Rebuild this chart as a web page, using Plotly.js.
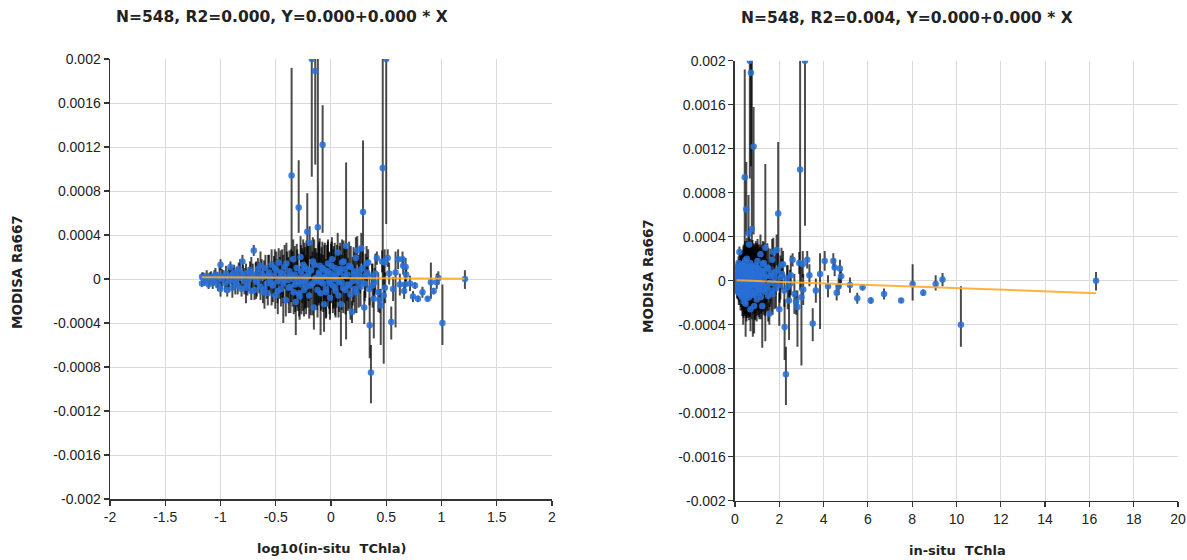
<!DOCTYPE html>
<html>
<head>
<meta charset="utf-8">
<script src="https://cdn.plot.ly/plotly-3.0.1.min.js"></script>
<style>html,body{margin:0;padding:0;background:#fff;}#chart{width:1187px;height:560px;}</style>
</head>
<body>
<div id="chart"></div>
<script>
// in-situ TChla values
const tchla = [
0.068,0.068,0.070,0.072,0.075,0.078,0.080,0.082,0.085,0.088,
0.090,0.093,0.095,0.098,0.100,0.100,0.103,0.106,0.110,0.112,
0.115,0.118,0.120,0.123,0.126,0.128,0.130,0.133,0.136,0.140,
0.143,0.146,0.150,0.155,0.158,0.160,0.165,0.170,0.175,0.180,
0.185,0.190,0.196,0.200,0.203,0.208,0.213,0.218,0.224,0.230,
0.236,0.242,0.248,0.255,0.262,0.268,0.275,0.282,0.290,0.298,
0.305,0.313,0.320,0.328,0.336,0.345,0.353,0.362,0.370,0.380,
0.390,0.400,0.410,0.420,0.430,0.440,0.450,0.460,0.470,0.480,
0.490,0.500,0.510,0.520,0.530,0.540,0.550,0.560,0.570,0.580,
0.590,0.600,0.610,0.625,0.640,0.655,0.670,0.685,0.700,0.715,
0.720,0.745,0.760,0.775,0.790,0.805,0.820,0.840,0.850,0.865,
0.880,0.900,0.920,0.940,0.960,0.980,1.000,1.020,1.040,1.060,
1.080,1.100,1.120,1.150,1.180,1.200,1.230,1.260,1.290,1.320,
1.340,1.370,1.420,1.460,1.500,1.550,1.600,1.640,1.680,1.730,
1.780,1.830,1.880,1.950,2.000,2.050,2.100,2.170,2.240,2.300,
2.380,2.440,2.520,2.600,2.680,2.760,2.820,2.900,2.940,3.000,
3.060,3.160,3.080,3.260,3.360,3.510,3.650,3.840,4.050,4.200,
4.440,4.500,4.590,4.680,4.740,4.790,5.190,5.520,5.760,6.130,
6.730,7.500,8.020,8.500,9.060,9.370,10.20,16.30,
0.150,0.170,0.190,0.210,0.230,0.250,0.270,0.290,0.310,0.330,
0.350,0.370,0.395,0.415,0.435,0.455,0.475,0.495,0.515,0.535,
0.555,0.575,0.595,0.615,0.635,0.660,0.680,0.705,0.730,0.755,
0.780,0.810,0.835,0.870,0.905,0.935,0.970,1.010,1.050,1.090,
1.130,1.170,1.210,1.250,1.300,1.350,1.400,1.450,1.510,1.570,
1.630,1.700,1.770,1.850,1.930,2.020,2.120,2.230,2.350,2.480
];
// MODISA Ra667 values
const ra667 = [
0.00002,-0.00004,0.00001,-0.00002,0.00003,-0.00005,0.00000,0.00002,-0.00003,0.00001,
0.00004,-0.00001,-0.00006,0.00003,0.00013,-0.00009,0.00000,0.00002,-0.00004,0.00005,
-0.00010,0.00001,-0.00002,0.00011,0.00003,-0.00008,0.00000,0.00006,-0.00003,0.00002,
-0.00006,0.00009,0.00001,-0.00009,0.00016,0.00003,-0.00002,0.00005,-0.00005,0.00000,
0.00008,-0.00011,0.00002,0.00026,-0.00010,0.00004,-0.00003,0.00009,0.00001,-0.00007,
0.00005,-0.00012,0.00002,0.00010,-0.00004,-0.00013,0.00006,0.00000,0.00013,-0.00006,
0.00003,-0.00015,0.00008,-0.00002,0.00015,0.00001,-0.00009,0.00005,-0.00004,0.00011,
-0.00019,0.00002,-0.00001,0.00007,-0.00007,0.00094,0.00000,-0.00012,0.00004,-0.00021,
0.00010,-0.00003,0.00065,-0.00016,0.00020,-0.00005,0.00003,0.00013,-0.00010,0.00001,
-0.00002,0.00009,0.00043,0.00005,0.00033,-0.00006,0.00200,0.00016,-0.00026,0.00000,
0.00189,-0.00002,0.00047,0.00004,0.00012,-0.00013,0.00001,0.00122,-0.00004,-0.00023,
0.00008,-0.00009,0.00003,0.00014,-0.00001,-0.00017,0.00005,0.00018,-0.00006,0.00002,
0.00010,-0.00011,0.00000,0.00024,-0.00003,0.00006,-0.00023,0.00015,-0.00008,0.00003,
0.00009,0.00030,-0.00005,0.00012,-0.00014,-0.00030,0.00004,-0.00009,0.00019,0.00026,
-0.00002,0.00008,0.00028,0.00061,-0.00026,0.00003,0.00014,0.00015,-0.00042,-0.00085,
-0.00006,-0.00018,0.00005,0.00019,-0.00012,-0.00019,-0.00024,0.00016,0.00101,-0.00015,
0.00015,0.00200,-0.00008,0.00019,0.00005,-0.00039,-0.00009,0.00006,0.00018,-0.00005,
0.00018,0.00012,-0.00011,-0.00005,0.00011,0.00004,-0.00004,-0.00016,-0.00006,-0.00018,
-0.00012,-0.00018,-0.00003,-0.00011,-0.00003,0.00001,-0.00040,0.00000,
0.00006,-0.00008,0.00004,-0.00001,0.00012,-0.00009,0.00003,-0.00004,0.00010,-0.00011,
0.00006,0.00000,0.00014,-0.00008,0.00003,0.00018,-0.00005,0.00001,-0.00013,0.00007,
-0.00002,0.00011,-0.00007,0.00002,-0.00015,0.00008,-0.00004,0.00013,0.00001,-0.00010,
0.00006,-0.00003,0.00010,0.00002,-0.00012,0.00007,-0.00004,0.00012,0.00000,-0.00008,
0.00005,-0.00015,0.00009,-0.00003,0.00016,-0.00010,0.00004,-0.00006,0.00011,-0.00002,
0.00007,-0.00012,0.00003,-0.00007,0.00010,-0.00004,0.00006,-0.00009,0.00002,-0.00003
];
// upper error
const errUp = [
0.00004,0.00003,0.00005,0.00004,0.00005,0.00004,0.00006,0.00005,0.00006,0.00007,
0.00006,0.00007,0.00005,0.00008,0.00005,0.00007,0.00009,0.00006,0.00008,0.00007,
0.00006,0.00009,0.00010,0.00005,0.00008,0.00009,0.00010,0.00007,0.00011,0.00009,
0.00008,0.00006,0.00010,0.00007,0.00006,0.00010,0.00012,0.00009,0.00010,0.00011,
0.00008,0.00008,0.00012,0.00005,0.00009,0.00011,0.00013,0.00010,0.00014,0.00012,
0.00013,0.00010,0.00015,0.00012,0.00014,0.00011,0.00016,0.00013,0.00014,0.00015,
0.00018,0.00012,0.00017,0.00020,0.00013,0.00019,0.00016,0.00022,0.00018,0.00020,
0.00015,0.00023,0.00021,0.00019,0.00024,0.00098,0.00025,0.00020,0.00026,0.00015,
0.00022,0.00026,0.00043,0.00021,0.00019,0.00027,0.00025,0.00023,0.00024,0.00028,
0.00024,0.00026,0.00035,0.00025,0.00015,0.00027,0.00000,0.00022,0.00016,0.00028,
0.00011,0.00026,0.00153,0.00028,0.00025,0.00024,0.00028,0.00036,0.00026,0.00009,
0.00025,0.00027,0.00028,0.00022,0.00026,0.00020,0.00027,0.00020,0.00025,0.00028,
0.00023,0.00024,0.00026,0.00018,0.00027,0.00024,0.00012,0.00021,0.00023,0.00025,
0.00020,0.00076,0.00024,0.00022,0.00023,0.00010,0.00025,0.00022,0.00019,0.00013,
0.00024,0.00021,0.00014,0.00065,0.00015,0.00020,0.00016,0.00012,0.00025,0.00025,
0.00020,0.00022,0.00018,0.00006,0.00018,0.00010,0.00015,0.00010,0.00099,0.00030,
0.00012,0.00000,0.00014,0.00008,0.00010,0.00014,0.00011,0.00019,0.00009,0.00010,
0.00007,0.00008,0.00007,0.00008,0.00008,0.00006,0.00007,0.00005,0.00003,0.00003,
0.00005,0.00002,0.00018,0.00003,0.00008,0.00006,0.00035,0.00008,
0.00012,0.00014,0.00016,0.00017,0.00013,0.00018,0.00019,0.00020,0.00017,0.00021,
0.00020,0.00022,0.00019,0.00023,0.00024,0.00018,0.00025,0.00026,0.00021,0.00024,
0.00027,0.00022,0.00025,0.00028,0.00021,0.00026,0.00029,0.00023,0.00027,0.00025,
0.00028,0.00026,0.00024,0.00029,0.00023,0.00027,0.00028,0.00022,0.00027,0.00025,
0.00026,0.00020,0.00024,0.00025,0.00019,0.00022,0.00024,0.00021,0.00019,0.00022,
0.00018,0.00019,0.00016,0.00018,0.00015,0.00016,0.00014,0.00015,0.00012,0.00013
];
// lower error
const errDn = [
0.00004,0.00003,0.00005,0.00004,0.00005,0.00004,0.00006,0.00005,0.00006,0.00007,
0.00006,0.00007,0.00005,0.00008,0.00005,0.00007,0.00009,0.00006,0.00008,0.00012,
0.00006,0.00009,0.00010,0.00005,0.00008,0.00009,0.00010,0.00007,0.00011,0.00009,
0.00008,0.00006,0.00010,0.00007,0.00006,0.00010,0.00012,0.00009,0.00010,0.00011,
0.00008,0.00008,0.00012,0.00005,0.00009,0.00011,0.00013,0.00010,0.00014,0.00012,
0.00013,0.00010,0.00015,0.00012,0.00014,0.00011,0.00016,0.00013,0.00014,0.00015,
0.00018,0.00012,0.00017,0.00020,0.00013,0.00019,0.00016,0.00022,0.00036,0.00020,
0.00015,0.00023,0.00021,0.00019,0.00024,0.00098,0.00025,0.00020,0.00026,0.00030,
0.00022,0.00026,0.00023,0.00021,0.00019,0.00027,0.00025,0.00023,0.00024,0.00028,
0.00024,0.00026,0.00035,0.00025,0.00015,0.00027,0.00107,0.00022,0.00020,0.00028,
0.00085,0.00026,0.00050,0.00028,0.00025,0.00038,0.00028,0.00080,0.00026,0.00025,
0.00025,0.00027,0.00028,0.00022,0.00026,0.00020,0.00027,0.00020,0.00025,0.00028,
0.00023,0.00024,0.00026,0.00018,0.00027,0.00024,0.00038,0.00021,0.00023,0.00025,
0.00020,0.00085,0.00024,0.00022,0.00023,0.00010,0.00025,0.00022,0.00019,0.00013,
0.00024,0.00021,0.00014,0.00060,0.00015,0.00020,0.00016,0.00012,0.00030,0.00028,
0.00020,0.00036,0.00018,0.00006,0.00018,0.00012,0.00036,0.00010,0.00110,0.00062,
0.00012,0.00150,0.00014,0.00008,0.00010,0.00016,0.00011,0.00050,0.00009,0.00010,
0.00007,0.00008,0.00007,0.00008,0.00018,0.00006,0.00007,0.00005,0.00003,0.00003,
0.00005,0.00002,0.00015,0.00003,0.00006,0.00006,0.00020,0.00009,
0.00012,0.00014,0.00016,0.00017,0.00013,0.00018,0.00019,0.00020,0.00017,0.00021,
0.00020,0.00022,0.00019,0.00023,0.00024,0.00018,0.00025,0.00026,0.00021,0.00024,
0.00027,0.00022,0.00025,0.00028,0.00021,0.00026,0.00029,0.00023,0.00027,0.00025,
0.00028,0.00026,0.00024,0.00029,0.00023,0.00027,0.00028,0.00022,0.00027,0.00025,
0.00026,0.00020,0.00024,0.00025,0.00019,0.00022,0.00024,0.00021,0.00019,0.00022,
0.00018,0.00019,0.00016,0.00018,0.00015,0.00016,0.00014,0.00015,0.00012,0.00013
];
// regression lines (end points)
const fitLogX = [-1.17, 1.21];
const fitLogY = [0.000016, 0.000002];
const fitX = [0.068, 16.3];
const fitY = [0.000004, -0.000113];

const titleLeft = 'N=548, R2=0.000, Y=0.000+0.000 * X';
const titleRight = 'N=548, R2=0.004, Y=0.000+0.000 * X';
const xTitleLeft = 'log10(in-situ\u00a0 TChla)';
const xTitleRight = 'in-situ\u00a0 TChla';
const yTitle = 'MODISA Ra667';

const xTicksL = [-2,-1.5,-1,-0.5,0,0.5,1,1.5,2];
const xTickTextL = ['-2','-1.5','-1','-0.5','0','0.5','1','1.5','2'];
const xTicksR = [0,2,4,6,8,10,12,14,16,18,20];
const xTickTextR = ['0','2','4','6','8','10','12','14','16','18','20'];
const yTicks = [-0.002,-0.0016,-0.0012,-0.0008,-0.0004,0,0.0004,0.0008,0.0012,0.0016,0.002];
const yTickText = ['-0.002','-0.0016','-0.0012','-0.0008','-0.0004','0','0.0004','0.0008','0.0012','0.0016','0.002'];

const logChl = tchla.map(v => Math.log10(v));

const markerStyle = {color:'rgba(40,112,215,0.88)', size:6.5};
const errStyle = (up, dn) => ({type:'data', symmetric:false, array:up, arrayminus:dn,
  color:'rgba(0,0,0,0.7)', thickness:2, width:0});

const traces = [
  {x:logChl, y:ra667, type:'scatter', mode:'markers', marker:markerStyle,
   error_y:errStyle(errUp, errDn), xaxis:'x', yaxis:'y', hoverinfo:'skip'},
  {x:fitLogX, y:fitLogY, type:'scatter', mode:'lines', line:{color:'rgba(255,170,40,0.9)', width:2},
   xaxis:'x', yaxis:'y', hoverinfo:'skip'},
  {x:tchla, y:ra667, type:'scatter', mode:'markers', marker:markerStyle,
   error_y:errStyle(errUp, errDn), xaxis:'x2', yaxis:'y2', hoverinfo:'skip'},
  {x:fitX, y:fitY, type:'scatter', mode:'lines', line:{color:'rgba(255,170,40,0.9)', width:2},
   xaxis:'x2', yaxis:'y2', hoverinfo:'skip'}
];

const axBase = {
  showgrid:true, gridcolor:'#dadada', gridwidth:1, zeroline:false,
  showline:true, linecolor:'#333', linewidth:1.5, ticks:'outside', ticklen:5, tickwidth:1.2, tickcolor:'#333',
  tickfont:{family:'"Liberation Sans", Arial, sans-serif', size:14, color:'#222'}, fixedrange:true
};

const layout = {
  width:1187, height:560, margin:{l:0,r:0,t:0,b:0},
  paper_bgcolor:'#fff', plot_bgcolor:'#fff', showlegend:false,
  xaxis:Object.assign({}, axBase, {domain:[0.0927,0.465], range:[-2,2], tickmode:'array', tickvals:xTicksL, ticktext:xTickTextL, anchor:'y'}),
  yaxis:Object.assign({}, axBase, {domain:[0.1089,0.8946], range:[-0.002,0.002], tickmode:'array', tickvals:yTicks, ticktext:yTickText, anchor:'x'}),
  xaxis2:Object.assign({}, axBase, {domain:[0.6192,0.9924], range:[0,20], tickmode:'array', tickvals:xTicksR, ticktext:xTickTextR, anchor:'y2'}),
  yaxis2:Object.assign({}, axBase, {domain:[0.1059,0.8916], range:[-0.002,0.002], tickmode:'array', tickvals:yTicks, ticktext:yTickText, anchor:'x2'}),
  annotations:[
    {text:'<b>'+titleLeft+'</b>', x:282/1187, y:1-17/560, xref:'paper', yref:'paper', showarrow:false, xanchor:'center', yanchor:'middle',
     font:{family:'"DejaVu Sans", sans-serif', size:15.5, color:'#222'}},
    {text:'<b>'+titleRight+'</b>', x:907/1187, y:1-18/560, xref:'paper', yref:'paper', showarrow:false, xanchor:'center', yanchor:'middle',
     font:{family:'"DejaVu Sans", sans-serif', size:15.5, color:'#222'}},
    {text:'<b>'+xTitleLeft+'</b>', x:331/1187, y:1-548/560, xref:'paper', yref:'paper', showarrow:false, xanchor:'center', yanchor:'middle',
     font:{family:'"DejaVu Sans", sans-serif', size:13, color:'#222'}},
    {text:'<b>'+xTitleRight+'</b>', x:957/1187, y:1-550/560, xref:'paper', yref:'paper', showarrow:false, xanchor:'center', yanchor:'middle',
     font:{family:'"DejaVu Sans", sans-serif', size:13, color:'#222'}},
    {text:'<b>'+yTitle+'</b>', x:17/1187, y:1-272/560, xref:'paper', yref:'paper', showarrow:false, xanchor:'center', yanchor:'middle', textangle:-90,
     font:{family:'"DejaVu Sans", sans-serif', size:13.5, color:'#222'}},
    {text:'<b>'+yTitle+'</b>', x:648/1187, y:1-276/560, xref:'paper', yref:'paper', showarrow:false, xanchor:'center', yanchor:'middle', textangle:-90,
     font:{family:'"DejaVu Sans", sans-serif', size:13.5, color:'#222'}}
  ]
};

Plotly.newPlot('chart', traces, layout, {staticPlot:true, displayModeBar:false});
</script>
</body>
</html>
